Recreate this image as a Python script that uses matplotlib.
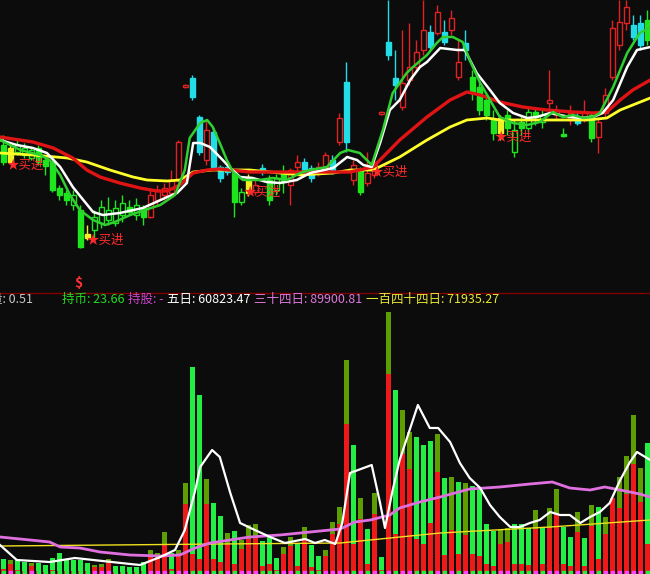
import numpy as np
import matplotlib.pyplot as plt

plt.rcParams['font.family'] = ['Noto Sans CJK SC', 'DejaVu Sans']

BG = '#0c0c0c'

# ---- K-line data (price units) ----
opens = [155, 152, 148, 145, 142, 152, 140, 138, 112, 107,
         95, 90, 66, 70, 77, 80, 77, 85, 93, 85,
         92, 83, 100, 105, 107, 120, 213, 222, 183, 140,
         168, 133, 133, 127, 98, 123, 108, 132, 120, 110,
         128, 115, 133, 138, 132, 127, 132, 140, 158, 218,
         120, 130, 117, 125, 186, 258, 222, 193, 220, 233,
         250, 268, 267, 268, 270, 223, 257, 223, 213, 200,
         180, 182, 185, 148, 178, 172, 188, 178, 197, 185,
         166, 180, 180, 182, 185, 163, 187, 223, 255, 277,
         275, 277, 280]
closes = [138, 138, 155, 152, 150, 138, 134, 110, 105, 100,
          105, 53, 62, 83, 93, 90, 92, 97, 88, 95,
          83, 105, 110, 112, 120, 158, 215, 203, 148, 170,
          133, 122, 128, 98, 108, 107, 115, 128, 100, 122,
          118, 130, 138, 128, 122, 133, 145, 130, 182, 158,
          135, 108, 127, 135, 188, 245, 215, 217, 233, 248,
          270, 253, 288, 258, 282, 238, 250, 208, 190, 185,
          167, 167, 172, 170, 172, 188, 183, 185, 200, 190,
          164, 187, 177, 188, 162, 178, 205, 272, 278, 293,
          263, 255, 260]
highs = [165, 155, 160, 157, 154, 155, 145, 140, 115, 110,
         110, 95, 75, 90, 100, 103, 100, 105, 100, 102,
         95, 110, 115, 117, 130, 160, 216, 225, 185, 180,
         172, 135, 136, 130, 112, 126, 120, 136, 125, 126,
         135, 132, 145, 142, 135, 138, 148, 145, 187, 238,
         140, 133, 148, 140, 189, 300, 250, 270, 277, 260,
         300, 275, 295, 280, 290, 260, 270, 230, 220, 205,
         190, 185, 190, 180, 185, 192, 192, 190, 230, 195,
         172, 195, 188, 200, 188, 182, 212, 280, 300, 300,
         285, 285, 290]
lows = [135, 137, 145, 142, 140, 135, 125, 108, 100, 95,
        90, 52, 60, 62, 72, 75, 74, 78, 85, 80,
        75, 82, 95, 100, 104, 118, 212, 200, 145, 135,
        130, 118, 125, 83, 95, 104, 105, 125, 95, 105,
        107, 95, 128, 125, 118, 124, 128, 126, 155, 148,
        115, 105, 114, 122, 185, 240, 200, 190, 215, 230,
        245, 250, 265, 255, 265, 220, 240, 200, 185, 180,
        160, 160, 165, 143, 165, 168, 175, 172, 190, 180,
        163, 175, 175, 178, 158, 147, 182, 220, 250, 270,
        260, 250, 255]
kcolor = ("gyGGGggggg" "GgyGGGGGgG" "grrrrrrccr" "cccgGyrcgG" "grrccrrcrc"
          "rgrrrccrrr" "rcrcrrcggg" "gygGgGgGrr" "grcrgrrrrr" "ccg")

# ---- price lines (bar index, price) ----
red_x = [-0.5, 4.2, 7.1, 9.9, 11.9, 13.8, 16.6, 19.5, 21.9, 23.4, 25.2, 27.1, 29.1, 30.9,
         35.2, 42.4, 49.5, 52.8, 56.6, 60.5, 63.8, 66.2, 68.1, 70.9, 74.2, 77.6, 81.4,
         84.2, 86.2, 88.1, 89.9, 92.4]
red_y = [163, 158, 152, 142, 130, 123, 117, 112, 109, 109, 115, 127, 130, 131,
         128, 128, 128, 133, 160, 183, 200, 208, 205, 198, 193, 190, 188,
         187, 188, 200, 210, 220]

white_x = [-0.5, 1.9, 4.2, 6.2, 8.1, 9.9, 11.4, 12.8, 14.2, 16.6, 19.9, 23.4, 24.8, 26.2,
           27.1, 28.1, 29.5, 30.9, 32.4, 33.8, 35.6, 37.6, 39.5, 41.9, 43.8, 47.1, 49.1,
           50.5, 51.4, 52.6, 53.8, 55.2, 56.6, 58.1, 59.5, 60.5, 62.4, 64.8, 65.9, 67.6,
           69.5, 70.9, 72.8, 74.8, 76.2, 78.1, 79.5, 80.9, 82.4, 84.2, 85.6, 87.1, 89.1,
           90.5, 92.4]
white_y = [160, 155, 152, 147, 133, 113, 100, 88, 85, 87, 92, 103, 107, 117,
           157, 157, 153, 143, 132, 123, 122, 118, 117, 120, 127, 132, 143,
           140, 135, 133, 157, 190, 200, 220, 233, 238, 252, 250, 250, 227,
           210, 197, 187, 182, 183, 187, 185, 183, 182, 183, 187, 200, 233,
           250, 253]

green_x = [-0.5, 2.4, 5.2, 6.6, 8.1, 9.5, 10.9, 12.8, 14.5, 15.9, 18.1, 20.2, 22.4, 24.5,
           25.9, 26.6, 28.1, 29.1, 29.9, 30.9, 31.9, 32.8, 34.2, 36.6, 38.5, 40.5, 42.4,
           43.8, 46.2, 48.1, 49.2, 50.9, 51.9, 52.6, 54.2, 55.6, 57.6, 58.5, 60.5, 61.9,
           62.8, 64.2, 65.6, 66.6, 68.1, 69.5, 70.9, 72.8, 74.8, 76.6, 78.5, 79.9, 81.4,
           82.8, 84.2, 85.2, 87.1, 89.1, 90.9, 92.4]
green_y = [160, 150, 145, 140, 125, 105, 90, 80, 75, 78, 85, 90, 95, 105,
           130, 162, 177, 180, 173, 157, 140, 128, 120, 120, 122, 120, 127,
           130, 133, 147, 150, 147, 140, 135, 170, 207, 227, 233, 245, 257,
           263, 263, 258, 240, 217, 200, 183, 177, 175, 178, 188, 183, 185,
           182, 183, 187, 213, 247, 267, 273]

yellow_x = [-0.5, 4.2, 9.1, 11.9, 15.2, 18.5, 20.5, 23.4, 25.2, 27.1, 29.9, 35.2, 42.4,
            47.1, 49.5, 52.8, 56.6, 60.5, 63.8, 66.2, 69.1, 70.9, 77.6, 83.4, 86.2,
            88.1, 89.9, 92.4]
yellow_y = [147, 145, 142, 138, 130, 123, 120, 119, 120, 128, 130, 130, 125,
            127, 130, 130, 143, 160, 173, 180, 182, 180, 180, 180, 182,
            190, 195, 202]

# buy signals
sig_idx = [0.4, 11.8, 34.3, 52.4, 70.2]
sig_price = [135, 60, 108, 128, 163]

# ---- volume data ----
vol = [15, 14, 14, 12, 11, 11, 9, 16, 21, 14,
       14, 14, 11, 9, 10, 15, 8, 8, 7, 7,
       12, 24, 21, 42, 21, 24, 91, 207, 179, 95,
       71, 58, 41, 43, 34, 49, 50, 33, 39, 16,
       27, 37, 31, 47, 29, 18, 24, 52, 67, 214,
       129, 76, 45, 81, 17, 262, 184, 164, 142, 137,
       129, 133, 140, 96, 97, 92, 91, 88, 85, 50,
       43, 44, 46, 50, 50, 46, 64, 46, 66, 85,
       47, 37, 62, 36, 69, 67, 57, 76, 97, 118,
       159, 106, 131]
vol_red = [5, 10, 4, 3, 8, 3, 2, 4, 3, 3,
           3, 3, 3, 7, 7, 11, 2, 2, 2, 2,
           3, 18, 15, 30, 5, 18, 70, 20, 15, 70,
           15, 12, 30, 10, 25, 35, 38, 8, 10, 4,
           20, 28, 8, 35, 7, 4, 18, 40, 50, 150,
           30, 55, 10, 60, 4, 200, 40, 120, 105, 35,
           30, 51, 102, 19, 44, 20, 39, 20, 18, 10,
           8, 30, 32, 10, 10, 9, 45, 10, 46, 60,
           10, 8, 42, 8, 48, 15, 40, 76, 66, 80,
           110, 72, 30]
vcode = ("goggoggggg" "gggooogggg" "gooogooggo" "ggogoooggg" "oogoggoooo"
         "gogogogoog" "ggogogoggg" "googggogoo" "ggogogoroo" "oog")

v5_x = [-0.5, 1.9, 6.6, 10.2, 18.1, 19.5, 22.4, 24.5, 25.9, 27.4, 28.1, 29.8, 30.9, 32.4,
        33.8, 35.9, 38.1, 40.2, 43.1, 44.5, 45.9, 47.4, 48.4, 49.5, 52.6, 53.8, 54.5,
        55.6, 56.6, 59.2, 60.9, 62.1, 63.8, 65.2, 66.6, 68.1, 69.5, 70.9, 72.4, 73.8,
        75.2, 76.6, 78.1, 79.5, 80.9, 82.4, 83.8, 85.2, 86.6, 88.1, 89.5, 90.5, 92.4]
v5_y = [29, 14, 12, 16, 10, 9, 17, 24, 44, 84, 107, 124, 117, 81,
        51, 44, 37, 31, 35, 31, 34, 30, 51, 101, 109, 71, 46,
        84, 114, 169, 146, 146, 132, 111, 96, 86, 69, 57, 47, 47,
        51, 54, 62, 59, 59, 51, 57, 62, 71, 94, 112, 122, 114]

v34_x = [-0.5, 3.8, 6.6, 8.1, 10.9, 13.8, 18.1, 22.4, 25.2, 27.4, 29.5, 35.2, 39.5, 43.8,
         48.1, 50.2, 52.4, 55.2, 56.6, 59.5, 62.4, 66.6, 70.9, 75.2, 78.4, 80.9, 83.8,
         85.9, 88.1, 90.9, 92.4]
v34_y = [37, 34, 32, 27, 26, 22, 19, 18, 19, 26, 31, 37, 39, 42,
         45, 52, 54, 59, 66, 72, 77, 85, 87, 90, 92, 86, 84,
         87, 84, 80, 77]

v144_x = [-0.5, 30.9, 48.1, 55.2, 62.4, 78.1, 92.4]
v144_y = [28, 30, 31, 36, 41, 47, 54]

fig = plt.figure(figsize=(6.5, 5.74), dpi=100, facecolor=BG)
ax1 = fig.add_axes([0, 282 / 574, 1, 292 / 574])
ax2 = fig.add_axes([0, 0, 1, 282 / 574])
for ax in (ax1, ax2):
    ax.set_xlim(-0.5, 92.36)
    ax.axis('off')
ax1.set_ylim(8, 300)
ax2.set_ylim(0, 282)

# candles
kc = {'r': '#e02222', 'g': '#1ee61e', 'G': '#1ee61e', 'c': '#22dde6', 'y': '#f0f022'}
for i in range(len(opens)):
    col = kc[kcolor[i]]
    ax1.vlines(i, lows[i], highs[i], color=col, lw=1, zorder=2)
    lo = min(opens[i], closes[i])
    hi = max(opens[i], closes[i])
    hollow = kcolor[i] in 'rG'
    ax1.bar(i, max(hi - lo, 0.8), bottom=lo, width=0.72,
            facecolor=BG if hollow else col, edgecolor=col, lw=1, zorder=3)

ax1.plot(yellow_x, yellow_y, color='#ffff2a', lw=2, zorder=4)
ax1.plot(red_x, red_y, color='#e01414', lw=2.4, zorder=4)
ax1.plot(white_x, white_y, color='#ffffff', lw=1.8, zorder=5)
ax1.plot(green_x, green_y, color='#30d030', lw=1.8, zorder=5)

for sx, sy in zip(sig_idx, sig_price):
    ax1.text(sx, sy, '★买进', color='#ff2a2a', fontsize=9, ha='left', va='center', zorder=6)

# volume bars
vc = {'g': '#22ee44', 'o': '#5f9e00', 'r': '#ee1a1a'}
xs = np.arange(len(vol))
ax2.bar(xs, vol, width=0.72, color=[vc[k] for k in vcode], zorder=2)
ax2.bar(xs, vol_red, width=0.72, color='#ee1a1a', zorder=3)
ax2.scatter(xs, np.full(len(xs), 1.5), s=5, marker='s',
            c=['#ff44ff' if k != 'g' else '#22ee44' for k in vcode], zorder=4)

ax2.plot(v144_x, v144_y, color='#f0e020', lw=1, zorder=5)
ax2.plot(v34_x, v34_y, color='#e070e0', lw=2, zorder=5)
ax2.plot(v5_x, v5_y, color='#ffffff', lw=1.6, zorder=6)

# separator and header
fig.add_artist(plt.Line2D([0, 1], [1 - 293 / 574] * 2, color='#800000', lw=1,
                          transform=fig.transFigure))
fig.text(78 / 650, 1 - 283 / 574, '$', color='#ff3333', fontsize=10,
         fontweight='bold', ha='center', va='center')

hy = 1 - 299 / 574
header = [(-10, '量: 0.51', '#c8c8c8'),
          (62, '持币: 23.66', '#22dd22'),
          (128, '持股: -', '#cc44cc'),
          (167, '五日: 60823.47', '#ffffff'),
          (254, '三十四日: 89900.81', '#dd77dd'),
          (366, '一百四十四日: 71935.27', '#e8e830')]
for px, s, col in header:
    fig.text(px / 650, hy, s, color=col, fontsize=9, ha='left', va='center')

fig.savefig('out.png', dpi=100, facecolor=BG)
